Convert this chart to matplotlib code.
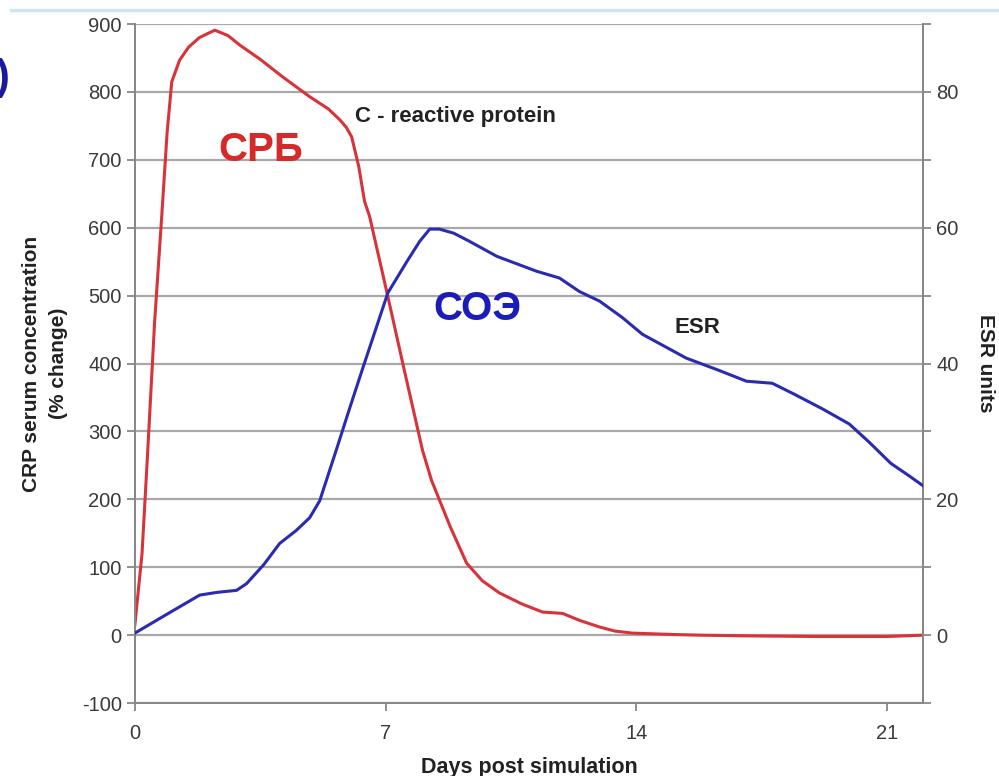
import matplotlib
matplotlib.use('Agg')
import matplotlib.pyplot as plt
from matplotlib.lines import Line2D

plt.rcParams['font.family'] = ['Liberation Sans', 'DejaVu Sans']
plt.rcParams['axes.unicode_minus'] = False

# CRP, % change (left axis)
crp_days = [0.0, 0.2, 0.36, 0.55, 0.75, 0.9, 1.03, 1.25, 1.5, 1.8, 2.23, 2.6, 2.93, 3.5, 4.13,
            4.88, 5.4, 5.72, 5.9, 6.05, 6.25, 6.41, 6.55, 7.06, 7.5, 8.03, 8.28, 8.8, 9.26,
            9.7, 10.18, 10.8, 11.38, 11.94, 12.4, 12.97, 13.4, 13.89, 15.0, 15.76,
            17.0, 19.0, 21.0, 22.0]
crp_values = [15, 120, 272, 460, 617, 740, 815, 847, 866, 880, 891, 883, 869, 848, 822,
              793, 775, 759, 748, 734, 690, 639, 617, 499, 395, 272, 228, 160, 106,
              80, 62, 46, 34, 32, 22, 12, 6, 3, 1, 0,
              -1, -2, -2, 0]

# ESR units (right axis)
esr_days = [0.0, 0.9, 1.81, 2.29, 2.84, 3.12, 3.6, 4.04, 4.5, 4.88, 5.16, 5.63,
            6.0, 6.36, 7.06, 7.59, 7.95, 8.23, 8.5, 8.9, 9.34, 10.1, 11.21, 11.85,
            12.41, 12.97, 13.6, 14.17, 15.39, 16.3, 17.07, 17.79, 18.4, 19.2,
            19.94, 20.5, 21.1, 21.6, 22.0]
esr_values = [0.3, 3.1, 5.9, 6.3, 6.6, 7.6, 10.4, 13.5, 15.4, 17.3, 19.8, 27.4,
              33.5, 39.3, 50.4, 55.0, 58.0, 59.8, 59.8, 59.2, 58.0, 55.8, 53.6, 52.6,
              50.6, 49.2, 46.8, 44.3, 40.8, 39.0, 37.4, 37.1, 35.5, 33.3,
              31.1, 28.4, 25.3, 23.5, 22.0]

x_ticks = [0, 7, 14, 21]
left_ticks = list(range(-100, 1000, 100))
right_ticks = list(range(-10, 100, 10))
right_labels = ['' if (t % 20 or t < 0) else str(t) for t in right_ticks]

red = '#d8323a'
blue = '#2b2bb2'
grid_c = '#a8a8a8'
tick_c = '#3a3a3a'

fig = plt.figure(figsize=(9.99, 7.76), dpi=100)
ax = fig.add_axes([0.135, 0.094, 0.789, 0.875])
ax2 = ax.twinx()

ax.set_xlim(0, 22)
ax.set_ylim(-100, 900)
ax2.set_ylim(-10, 90)

ax.set_yticks(left_ticks)
ax.set_xticks(x_ticks)
ax2.set_yticks(right_ticks)
ax2.set_yticklabels(right_labels)

ax.grid(axis='y', color=grid_c, linewidth=1.6)
ax.set_axisbelow(True)

for a in (ax, ax2):
    for s in a.spines.values():
        s.set_color('#888888')
        s.set_linewidth(1.4)
    a.spines['top'].set_visible(False)
    a.tick_params(colors='#888888', labelcolor=tick_c, labelsize=14.5,
                  length=6, width=1.3)
ax.tick_params(axis='x', pad=9)

ax.plot(crp_days, crp_values, color=red, linewidth=2.2, zorder=3)
ax2.plot(esr_days, esr_values, color=blue, linewidth=2.2, zorder=3)

ax.set_xlabel('Days post simulation', fontsize=15.5, fontweight='bold',
              color='#222222', labelpad=10)
ax.set_ylabel('CRP serum concentration\n(% change)', fontsize=15,
              fontweight='bold', color='#222222', labelpad=10, linespacing=1.5)
ax2.set_ylabel('ESR units', fontsize=15, fontweight='bold', color='#222222',
               rotation=270, labelpad=26)

ax.text(6.15, 764, 'C - reactive protein', fontsize=16, fontweight='bold',
        color='#222222', ha='left', va='center')
ax2.text(15.05, 45.3, 'ESR', fontsize=16, fontweight='bold', color='#222222',
         ha='left', va='center')
ax.text(3.5, 714, 'СРБ', fontsize=29, fontweight='bold', color='#d42a2a',
        ha='center', va='center')
ax.text(9.56, 481, 'СОЭ', fontsize=29, fontweight='bold', color='#1c1cb8',
        ha='center', va='center')

# slide frame remnants
fig.add_artist(Line2D([0.011, 1.0], [0.987, 0.987], color='#cfe6ec',
                      linewidth=2.5, transform=fig.transFigure))
fig.text(0.003, 0.9, ')', fontsize=30, fontweight='bold', color='#1a1aa0',
         ha='center', va='center')

fig.savefig('out.png', dpi=100)
